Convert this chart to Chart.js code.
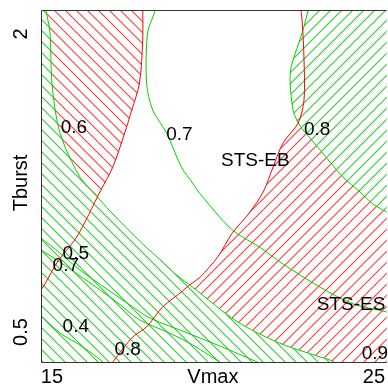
<!DOCTYPE html>
<html>
<head>
<meta charset="utf-8">
<script src="https://cdn.jsdelivr.net/npm/chart.js@4"></script>
<style>html,body{margin:0;padding:0;background:#fff}</style>
</head>
<body>
<canvas id="c" width="388" height="389"></canvas>
<script>
// axis setup
const vmaxRange = [14.66, 25.40];
const tburstRange = [0.4349, 2.236];
const xTicks = [15, 20, 25];
const xTickLabels = ['15', 'Vmax', '25'];
const yTicks = [0.5, 1, 2];
const yTickLabels = ['0.5', 'Tburst', '2'];

// contour traces — Vmax / Tburst pairs
// STS-EB (red)
const red1V = [17.82, 17.82, 17.72, 17.48, 17.26, 16.89, 16.49, 15.77, 15.19, 14.78, 14.66];
const red1T = [2.257, 1.945, 1.592, 1.404, 1.262, 1.077, 0.959, 0.778, 0.696, 0.625, 0.608];
const red2V = [22.71, 22.77, 22.83, 22.83, 22.65, 22.18, 21.87, 21.56, 21.13, 20.60, 20.17, 19.61, 19.27, 19.06, 18.44, 17.94, 17.51, 16.89, 16.73];
const red2T = [2.289, 2.135, 1.772, 1.471, 1.322, 1.205, 1.077, 0.959, 0.870, 0.792, 0.712, 0.646, 0.622, 0.605, 0.562, 0.512, 0.4885, 0.4349, 0.4190];

// STS-ES (green)
const green1V = [14.78, 14.94, 15.00, 15.25, 15.87, 16.39, 16.80, 17.82, 18.34, 18.87, 19.37, 20.73, 22.06, 23.33, 23.76, 23.92];
const green1T = [2.289, 2.009, 1.592, 1.262, 1.028, 0.941, 0.878, 0.753, 0.702, 0.652, 0.616, 0.526, 0.4751, 0.4451, 0.4349, 0.4190];
const green2V = [23.02, 22.96, 22.80, 22.43, 22.40, 22.49, 22.65, 22.80, 23.33, 24.04, 24.57, 24.97, 25.40, 25.77];
const green2T = [2.289, 2.236, 2.037, 1.716, 1.592, 1.404, 1.322, 1.280, 1.166, 1.028, 0.959, 0.907, 0.874, 0.850];
const green3V = [18.22, 18.19, 17.97, 17.94, 18.13, 18.56, 19.02, 19.37, 19.58, 20.60, 21.44, 22.18, 23.33, 24.35, 25.40, 25.77];
const green3T = [2.289, 2.216, 2.009, 1.592, 1.404, 1.262, 1.077, 1.000, 0.9546, 0.804, 0.743, 0.686, 0.616, 0.570, 0.549, 0.541];
const green5V = [14.57, 14.66, 15.25, 15.87, 16.70, 17.51, 18.03, 19.37, 20.51, 21.59];
const green5T = [0.785, 0.774, 0.722, 0.667, 0.611, 0.562, 0.534, 0.4931, 0.4599, 0.4288];
const green6V = [14.57, 15.25, 15.96, 17.01, 17.72, 18.65, 19.37, 20.36];
const green6T = [0.739, 0.692, 0.643, 0.575, 0.529, 0.4977, 0.4707, 0.4288];
const green7V = [14.57, 14.66, 15.25, 15.87, 16.39, 16.80];
const green7T = [0.546, 0.539, 0.4977, 0.4707, 0.4451, 0.4230];

// points just outside the plot, used to close the hatched regions
const outV = [14.30, 26.40];
const outT = [0.4190, 2.289];

// contour labels
const noteText = ['0.6', '0.7', '0.8', 'STS-EB', '0.5', '0.7', '0.4', '0.8', 'STS-ES', '0.9'];
const noteV = [15.68, 18.96, 23.24, 21.32, 15.74, 15.43, 15.74, 17.35, 24.29, 25.03];
const noteT = [1.292, 1.250, 1.280, 1.108, 0.719, 0.680, 0.512, 0.4599, 0.567, 0.4513];

const FONT = '"Liberation Sans", Arial, Helvetica, sans-serif';
const RED = '#ff0000';
const GREEN = '#00d000';
const SMOOTH = 0.3;

const pts = (vs, ts) => vs.map((v, i) => ({ x: v, y: ts[i] }));

const g1 = pts(green1V, green1T);
const g2 = pts(green2V, green2T);
const r1 = pts(red1V, red1T);
const r2 = pts(red2V, red2T);

// hatched regions
const greenLowRegion = [...g1, { x: outV[0], y: outT[0] }, { x: outV[0], y: outT[1] }];
const redLeftRegion = [...g1.slice(0, 6), ...r1.slice(0, 7).reverse()];
const redRightRegion = [...r2.slice(4, 13), ...g1.slice(10), { x: outV[1], y: outT[0] }, { x: outV[1], y: 0.834 }, ...g2.slice(6).reverse()];
const greenTopRegion = [...g2, { x: outV[1], y: 0.850 }, { x: outV[1], y: outT[1] }];

function hatch(color, dir) {
  const s = 11;
  const c = document.createElement('canvas');
  c.width = c.height = s;
  const g = c.getContext('2d');
  g.strokeStyle = color;
  g.lineWidth = 1.1;
  g.beginPath();
  if (dir === 'down') {
    g.moveTo(-1, -1); g.lineTo(s + 1, s + 1);
    g.moveTo(-1, s - 1); g.lineTo(1, s + 1);
    g.moveTo(s - 1, -1); g.lineTo(s + 1, 1);
  } else {
    g.moveTo(-1, s + 1); g.lineTo(s + 1, -1);
    g.moveTo(-1, 1); g.lineTo(1, -1);
    g.moveTo(s - 1, s + 1); g.lineTo(s + 1, s - 1);
  }
  g.stroke();
  return g.createPattern(c, 'repeat');
}

const region = (data, fill) => ({
  data, showLine: true, fill: 'shape', backgroundColor: fill, tension: SMOOTH,
  borderWidth: 0, borderColor: 'rgba(0,0,0,0)', pointRadius: 0, order: 2,
});
const contour = (data, color) => ({
  data, showLine: true, fill: false, borderColor: color, borderWidth: 1,
  pointRadius: 0, tension: SMOOTH, order: 1,
});

const datasets = [
  region(greenLowRegion, hatch('#30cc30', 'down')),
  region(redLeftRegion, hatch('#ff3a3a', 'down')),
  region(redRightRegion, hatch('#ff3a3a', 'up')),
  region(greenTopRegion, hatch('#30cc30', 'up')),
  contour(r1, RED),
  contour(r2, RED),
  contour(g1, GREEN),
  contour(g2, GREEN),
  contour(pts(green3V, green3T), GREEN),
  contour(pts(green5V, green5T), GREEN),
  contour(pts(green6V, green6T), GREEN),
  contour(pts(green7V, green7T), GREEN),
];

// labels, frame and rotated y tick labels
const extras = {
  id: 'extras',
  afterDatasetsDraw(chart) {
    const { ctx, chartArea: a, scales: { x, y } } = chart;
    ctx.save();
    ctx.fillStyle = '#000';
    ctx.textAlign = 'center';
    ctx.textBaseline = 'middle';
    ctx.font = '19px ' + FONT;
    noteText.forEach((t, i) => {
      ctx.fillText(t, x.getPixelForValue(noteV[i]), y.getPixelForValue(noteT[i]));
    });

    ctx.strokeStyle = '#333';
    ctx.lineWidth = 1;
    ctx.beginPath();
    ctx.moveTo(a.right, a.top + 0.5);
    ctx.lineTo(a.left + 0.5, a.top + 0.5);
    ctx.lineTo(a.left + 0.5, a.bottom + 0.5);
    ctx.lineTo(a.right, a.bottom + 0.5);
    ctx.stroke();

    ctx.font = '20px ' + FONT;
    y.ticks.forEach((tk, i) => {
      ctx.save();
      ctx.translate(21, y.getPixelForValue(tk.value));
      ctx.rotate(-Math.PI / 2);
      ctx.fillText(yTickLabels[i], 0, 0);
      ctx.restore();
    });
    ctx.restore();
  },
};

new Chart(document.getElementById('c'), {
  type: 'scatter',
  data: { datasets },
  options: {
    responsive: false,
    animation: false,
    events: [],
    elements: { line: { capBezierPoints: false } },
    layout: { padding: { top: 10, left: 0, right: 0, bottom: 0 } },
    plugins: { legend: { display: false }, tooltip: { enabled: false } },
    scales: {
      x: {
        type: 'linear',
        min: vmaxRange[0],
        max: vmaxRange[1],
        grid: { display: false, drawTicks: false },
        border: { display: false },
        afterBuildTicks: s => { s.ticks = xTicks.map(v => ({ value: v })); },
        afterFit: s => { s.height = 27; },
        ticks: {
          color: '#000',
          font: { size: 20, family: FONT },
          padding: 3,
          maxRotation: 0,
          autoSkip: false,
          callback: (v, i) => xTickLabels[i],
        },
      },
      y: {
        type: 'logarithmic',
        min: tburstRange[0],
        max: tburstRange[1],
        grid: { display: false, drawTicks: false },
        border: { display: false },
        afterBuildTicks: s => { s.ticks = yTicks.map(v => ({ value: v })); },
        afterFit: s => { s.width = 41; },
        ticks: { display: false },
      },
    },
  },
  plugins: [extras],
});
</script>
</body>
</html>
